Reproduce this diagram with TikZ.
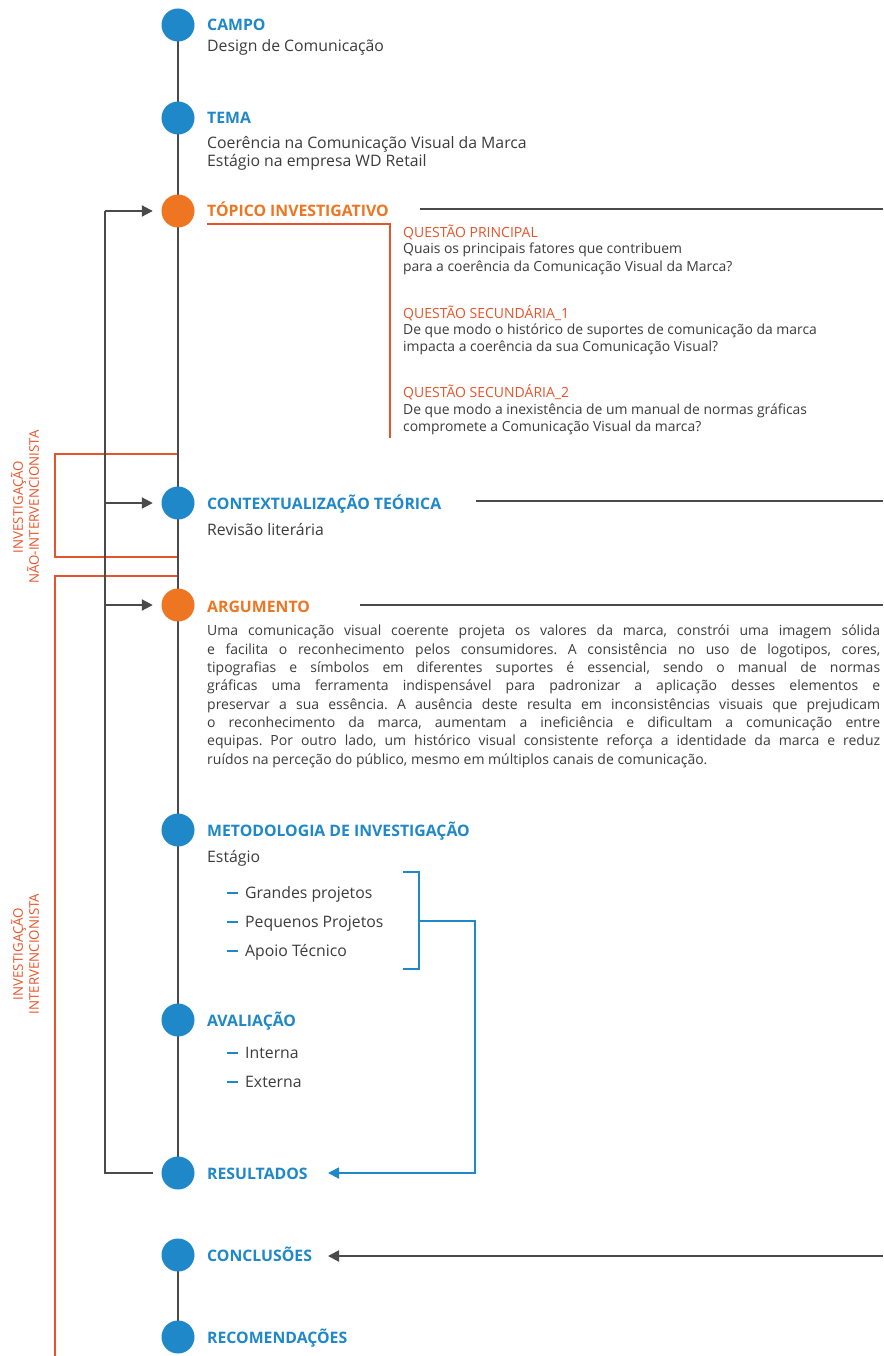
\documentclass[tikz,border=0pt]{standalone}
\usepackage{fontspec}
\setmainfont{Open Sans}
\usetikzlibrary{arrows.meta}
\definecolor{tlblue}{HTML}{1F88C9}
\definecolor{tlorange}{HTML}{EE7623}
\definecolor{tlred}{HTML}{E5552B}
\definecolor{tlgray}{HTML}{4A4A4A}
\definecolor{tltext}{HTML}{3C3C3C}
\tikzset{
  dot/.style={circle, fill=#1, minimum size=33pt, inner sep=0pt},
  head/.style={anchor=base west, inner sep=0pt, text=#1,
    font=\fontsize{15.8}{18}\selectfont\bfseries},
  body/.style={anchor=base west, inner sep=0pt, text=tltext, align=left,
    font=\fontsize{15.8}{18}\selectfont},
  qlabel/.style={anchor=base west, inner sep=0pt, text=tlred,
    font=\fontsize{14}{17}\selectfont},
  qbody/.style={anchor=base west, inner sep=0pt, text=tltext, align=left,
    font=\fontsize{13.9}{17}\selectfont},
  item/.style={anchor=base west, inner sep=0pt, text=tltext,
    font=\fontsize{15.8}{18}\selectfont},
  sidelabel/.style={rotate=90, inner sep=0pt, text=tlred, align=center,
    font=\fontsize{13.3}{16}\selectfont},
  spine/.style={draw=tlgray, line width=2.4pt},
  loop/.style={draw=tlgray, line width=2pt},
  garrow/.style={loop, -{Triangle[length=11pt,width=11pt]}},
  rule/.style={draw=tlgray, line width=2pt},
  redline/.style={draw=tlred, line width=2pt},
  bluebr/.style={draw=tlblue, line width=1.8pt},
  barrow/.style={bluebr, -{Triangle[length=11pt,width=11pt]}},
}
\newcommand{\itemdash}{{\color{tlblue}\rule[4.5pt]{11pt}{1.8pt}}\hspace{7pt}}
\begin{document}
\begin{tikzpicture}[x=1pt, y=-1pt]
\useasboundingbox[fill=white] (0,0) rectangle (883,1356);

% side brackets for the two kinds of investigation
\coordinate (nT) at (178,454);
\coordinate (nTL) at (55,454);
\coordinate (nBL) at (55,557);
\coordinate (nB) at (178,557);
\draw[redline] (nT) -- (nTL) -- (nBL) -- (nB);
\coordinate (iT) at (178,576);
\coordinate (iTL) at (55,576);
\coordinate (iBL) at (55,1356);
\draw[redline] (iT) -- (iTL) -- (iBL);
\node[sidelabel] (lblNI) at (25,507) {INVESTIGAÇÃO\\NÃO-INTERVENCIONISTA};
\node[sidelabel] (lblI) at (25,954) {INVESTIGAÇÃO\\INTERVENCIONISTA};

% timeline spine
\coordinate (s1) at (178,25);
\coordinate (s2) at (178,1173);
\coordinate (s3) at (178,1255);
\coordinate (s4) at (178,1337);
\draw[spine] (s1) -- (s2);
\draw[spine] (s3) -- (s4);

% stations
\node[dot=tlblue]   (campo)  at (178,25) {};
\node[dot=tlblue]   (tema)   at (178,118) {};
\node[dot=tlorange] (topico) at (178,211) {};
\node[dot=tlblue]   (contexto) at (178,503) {};
\node[dot=tlorange] (argumento) at (178,605) {};
\node[dot=tlblue]   (metodo) at (178,830) {};
\node[dot=tlblue]   (aval)   at (178,1020) {};
\node[dot=tlblue]   (result) at (178,1173) {};
\node[dot=tlblue]   (concl)  at (178,1255) {};
\node[dot=tlblue]   (recom)  at (178,1337) {};

% feedback loop
\coordinate (fbT) at (105,211);
\coordinate (fbC) at (105,503);
\coordinate (fbA) at (105,605);
\coordinate (fbB) at (105,1173);
\draw[loop, shorten >=8.5pt] (fbT) -- (fbB) -- (result);
\draw[garrow, shorten >=8.5pt] (fbT) -- (topico);
\draw[garrow, shorten >=8.5pt] (fbC) -- (contexto);
\draw[garrow, shorten >=8.5pt] (fbA) -- (argumento);

% CAMPO
\node[head=tlblue] (campoT) at (207,31) {CAMPO};
\node[body] (campoB) at (207,52) {Design de Comunicação};

% TEMA
\node[head=tlblue] (temaT) at (207,124) {TEMA};
\node[body] (temaB1) at (207,149) {Coerência na Comunicação Visual da Marca};
\node[body] (temaB2) at (207,167) {Estágio na empresa WD Retail};

% TOPICO INVESTIGATIVO
\node[head=tlorange] (topicoT) at (207,217) {TÓPICO INVESTIGATIVO};
\coordinate (tL1) at (420,209);
\coordinate (tR1) at (883,209);
\draw[rule] (tL1) -- (tR1);
\coordinate (q1) at (207,224);
\coordinate (q2) at (390,224);
\coordinate (q3) at (390,438);
\draw[redline] (q1) -- (q2) -- (q3);

\node[qlabel] (qp) at (403,237) {QUESTÃO PRINCIPAL};
\node[qbody] (qp1) at (403,254) {Quais os principais fatores que contribuem};
\node[qbody] (qp2) at (403,271) {para a coerência da Comunicação Visual da Marca?};
\node[qlabel] (qs1) at (403,318) {QUESTÃO SECUNDÁRIA\_1};
\node[qbody] (qs11) at (403,334) {De que modo o histórico de suportes de comunicação da marca};
\node[qbody] (qs12) at (403,351) {impacta a coerência da sua Comunicação Visual?};
\node[qlabel] (qs2) at (403,397) {QUESTÃO SECUNDÁRIA\_2};
\node[qbody] (qs21) at (403,414) {De que modo a inexistência de um manual de normas gráficas};
\node[qbody] (qs22) at (403,431) {compromete a Comunicação Visual da marca?};

% CONTEXTUALIZACAO TEORICA
\node[head=tlblue] (contextoT) at (207,509) {CONTEXTUALIZAÇÃO TEÓRICA};
\node[body] (contextoB) at (207,535) {Revisão literária};
\coordinate (tL2) at (476,501);
\coordinate (tR2) at (883,501);
\draw[rule] (tL2) -- (tR2);

% ARGUMENTO
\node[head=tlorange] (argumentoT) at (207,612) {ARGUMENTO};
\coordinate (tL3) at (360,605);
\coordinate (tR3) at (883,605);
\draw[rule] (tL3) -- (tR3);
\node[anchor=north west, inner sep=0pt, text width=673pt, align=justify, text=tltext,
      font=\fontsize{14}{18.3}\selectfont] (argumentoB) at (207,625)
{\frenchspacing\hyphenpenalty=10000\relax
Uma comunicação visual coerente projeta os valores da marca, constrói uma imagem sólida\linebreak
e facilita o reconhecimento pelos consumidores. A consistência no uso de logotipos, cores,\linebreak
tipografias e símbolos em diferentes suportes é essencial, sendo o manual de normas\linebreak
gráficas uma ferramenta indispensável para padronizar a aplicação desses elementos e\linebreak
preservar a sua essência. A ausência deste resulta em inconsistências visuais que prejudicam\linebreak
o reconhecimento da marca, aumentam a ineficiência e dificultam a comunicação entre\linebreak
equipas. Por outro lado, um histórico visual consistente reforça a identidade da marca e reduz\linebreak
ruídos na perceção do público, mesmo em múltiplos canais de comunicação.};

% METODOLOGIA
\node[head=tlblue] (metodoT) at (207,836) {METODOLOGIA DE INVESTIGAÇÃO};
\node[body] (metodoB) at (207,862) {Estágio};
\node[item] (m1) at (227,898) {\itemdash Grandes projetos};
\node[item] (m2) at (227,927) {\itemdash Pequenos Projetos};
\node[item] (m3) at (227,956) {\itemdash Apoio Técnico};
\coordinate (b1) at (403,872);
\coordinate (b2) at (419,872);
\coordinate (b3) at (419,969);
\coordinate (b4) at (403,969);
\draw[bluebr] (b1) -- (b2) -- (b3) -- (b4);
\coordinate (bm) at (419,921);
\coordinate (bc) at (475,921);
\coordinate (bd) at (475,1173);
\coordinate (bTip) at (328,1173);
\draw[barrow] (bm) -- (bc) -- (bd) -- (bTip);

% AVALIACAO
\node[head=tlblue] (avalT) at (207,1026) {AVALIAÇÃO};
\node[item] (a1) at (227,1058) {\itemdash Interna};
\node[item] (a2) at (227,1087) {\itemdash Externa};

% RESULTADOS, CONCLUSOES, RECOMENDACOES
\node[head=tlblue] (resultT) at (207,1179) {RESULTADOS};
\node[head=tlblue] (conclT) at (207,1261) {CONCLUSÕES};
\node[head=tlblue] (recomT) at (207,1343) {RECOMENDAÇÕES};
\coordinate (cR) at (883,1256);
\coordinate (cTip) at (328,1256);
\draw[garrow] (cR) -- (cTip);
\end{tikzpicture}
\end{document}
